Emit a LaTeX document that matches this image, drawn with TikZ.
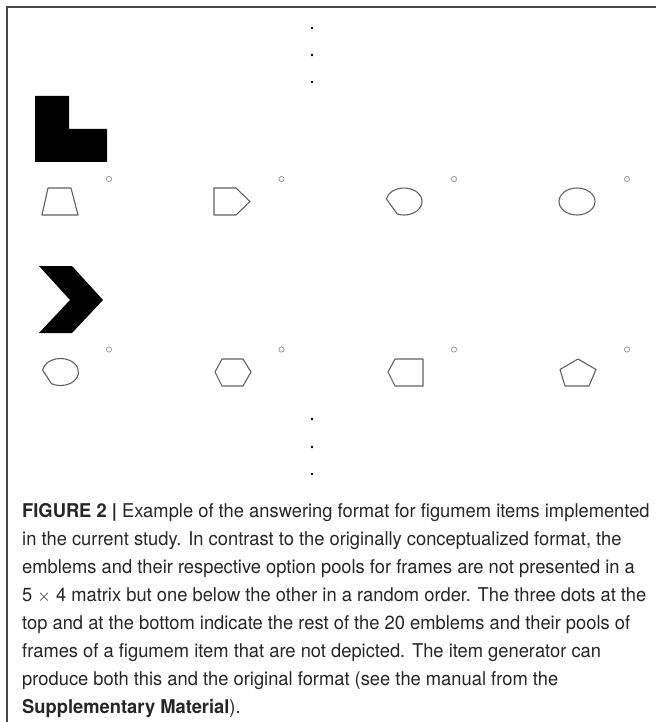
\documentclass[tikz,border=0pt]{standalone}
\usepackage{fontspec}
\usetikzlibrary{calc}
\setmainfont{TeX Gyre Heros}
\newfontfamily\capfont[FakeStretch=0.965]{TeX Gyre Heros}
\begin{document}
\begin{tikzpicture}[x=1pt, y=-1pt]
      \tikzset{frm/.style={draw=black!62, line width=1.1pt, line join=round},
        opt/.style={circle, draw=black!40, line width=0.8pt, inner sep=0pt, minimum size=5.2pt},
        dotnode/.style={circle, fill=black, inner sep=0pt, minimum size=2.6pt},
        emblem/.style={fill=black}}
      \useasboundingbox (0,0) rectangle (656,722);
      \draw[black!72, line width=2.2pt] (7,7) -- (656,7);
      \draw[black!72, line width=1.3pt] (7,6) -- (7,722);
      \foreach \y [count=\i] in {28,55,82} \node[dotnode] (t\i) at (312,\y) {};
      \foreach \y [count=\i] in {419,447,474} \node[dotnode] (b\i) at (312,\y) {};
      \fill[emblem] (35,96) -- (69,96) -- (69,129) -- (107,129) -- (107,162) -- (35,162) -- cycle;
      \fill[emblem] (39,266) -- (72,266) -- (103,300) -- (72,333) -- (39,333) -- (70,300) -- cycle;
      \foreach \x [count=\i] in {109,281.5,454,627} {
        \node[opt] (oa\i) at (\x,179) {};
        \node[opt] (ob\i) at (\x,349.5) {};
      }
      \draw[frm] (48,188) -- (71,188) -- (78,215) -- (42,215) -- cycle;
      \draw[frm] (214,188) -- (236,188) -- (250,201.5) -- (236,215) -- (214,215) -- cycle;
      \draw[frm] ($(404,201.5)+(-112:18 and -13.5)$) arc[start angle=-112, end angle=169, x radius=18, y radius=-13.5] -- cycle;
      \draw[frm] (577,201.5) ellipse[x radius=18, y radius=13.5];
      \draw[frm] ($(60.5,372)+(-120:18 and -13.5)$) arc[start angle=-120, end angle=172, x radius=18, y radius=-13.5] -- cycle;
      \draw[frm] (215,372) -- (222,359) -- (243,359) -- (251,372) -- (243,386) -- (222,386) -- cycle;
      \draw[frm] (388,372) -- (395,359) -- (423,359) -- (423,386) -- (395,386) -- cycle;
      \draw[frm] (578,359) -- (596,369.5) -- (589,386) -- (565,386) -- (560,369.5) -- cycle;
      \node[anchor=north west, align=left, inner sep=0pt, text=black!85,
        font=\capfont\fontsize{19}{28}\selectfont] (cap) at (22,503)
        {\textbf{FIGURE 2 |} Example of the answering format for figumem items implemented\\
         in the current study. In contrast to the originally conceptualized format, the\\
         emblems and their respective option pools for frames are not presented in a\\
         5 $\times$ 4 matrix but one below the other in a random order. The three dots at the\\
         top and at the bottom indicate the rest of the 20 emblems and their pools of\\
         frames of a figumem item that are not depicted. The item generator can\\
         produce both this and the original format (see the manual from the\\
         \textbf{Supplementary Material}).};
    \end{tikzpicture}
\end{document}
